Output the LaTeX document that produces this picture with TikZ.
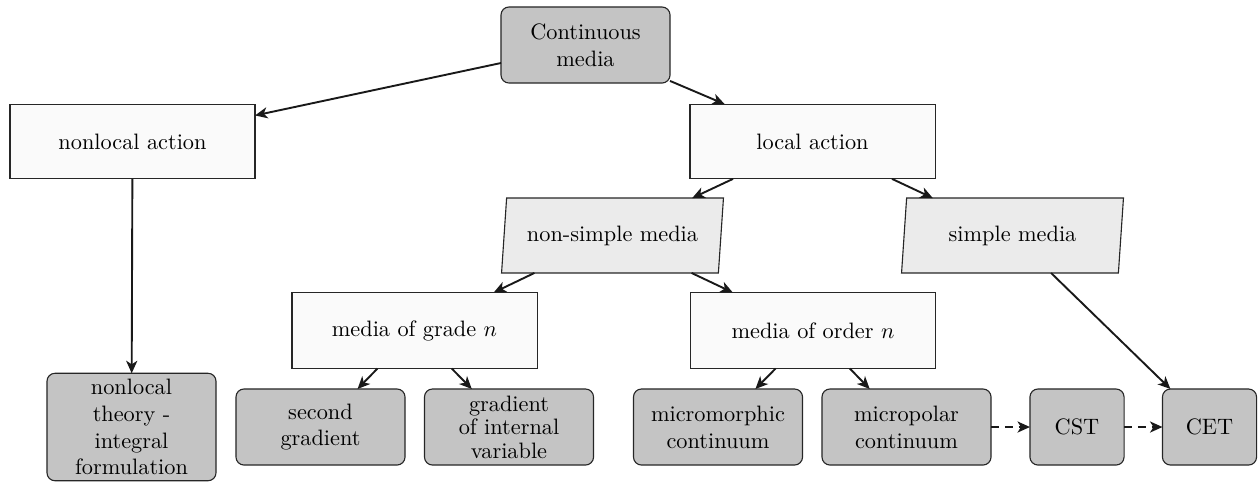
\documentclass[tikz,border=0pt]{standalone}
\usetikzlibrary{shapes.geometric,arrows.meta}
\definecolor{boxgray}{HTML}{C4C4C4}
\definecolor{paragray}{HTML}{EBEBEB}
\definecolor{boxwhite}{HTML}{FAFAFA}
\tikzset{
  base/.style={draw=black!85, line width=0.5pt, align=center, inner sep=2pt, outer sep=0pt},
  graybox/.style={base, fill=boxgray, rounded corners=3.6pt, minimum width=75.8pt, minimum height=34.1pt},
  whitebox/.style={base, fill=boxwhite, minimum width=109.9pt, minimum height=33.5pt},
  para/.style={base, fill=paragray, trapezium, trapezium left angle=80, trapezium right angle=100,
    trapezium stretches body, minimum width=99.5pt, minimum height=33.6pt},
  arr/.style={-{Stealth[length=5.6pt,width=5pt,inset=1.6pt]}, line width=0.85pt, black!90},
  darr/.style={arr, dash pattern=on 3.6pt off 2.6pt},
}
\begin{document}
\begin{tikzpicture}[x=0.4484pt, y=-0.4484pt]
\useasboundingbox (0,0) rectangle (1258,483);
\node[graybox] (cm) at (585.5,45) {Continuous\\media};
\node[whitebox] (nla) at (132.5,141.5) {nonlocal action};
\node[whitebox] (la) at (812.5,141.5) {local action};
\node[para] (nsm) at (612.5,235.5) {non-simple media};
\node[para] (sm) at (1012.5,235.5) {simple media};
\node[whitebox, minimum height=34.1pt] (grade) at (414.5,330.5) {media of grade $n$};
\node[whitebox, minimum height=34.1pt] (order) at (813,330.5) {media of order $n$};
\node[graybox, minimum height=48.2pt] (nlt) at (131.5,427) {nonlocal\\theory -\\integral\\formulation};
\node[graybox] (sg) at (320.5,427) {second\\gradient};
\node[graybox, inner sep=0pt, font=\linespread{0.875}\selectfont] (giv) at (509,427) {gradient\\of internal\\variable};
\node[graybox] (mm) at (718,427) {micromorphic\\continuum};
\node[graybox] (mp) at (906.5,427) {micropolar\\continuum};
\node[graybox, minimum width=42.2pt] (cst) at (1077,427) {CST};
\node[graybox, minimum width=42.2pt] (cet) at (1209.5,427) {CET};
\draw[arr] (cm) -- (nla);
\draw[arr] (cm) -- (la);
\draw[arr] (nla) -- (nlt);
\draw[arr] (la) -- (nsm);
\draw[arr] (la) -- (sm);
\draw[arr] (nsm) -- (grade);
\draw[arr] (nsm) -- (order);
\draw[arr] (sm) -- (cet);
\draw[arr] (grade) -- (sg);
\draw[arr] (grade) -- (giv);
\draw[arr] (order) -- (mm);
\draw[arr] (order) -- (mp);
\draw[darr] (mp) -- (cst);
\draw[darr] (cst) -- (cet);
\end{tikzpicture}
\end{document}
